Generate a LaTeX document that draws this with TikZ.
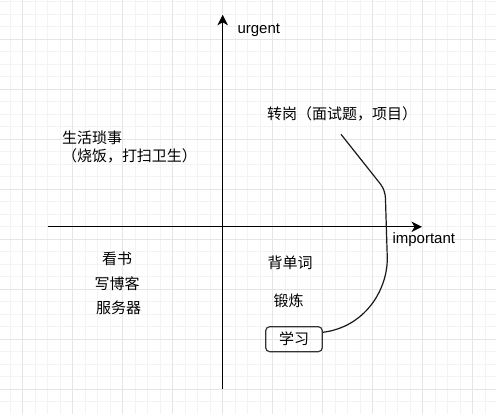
\documentclass[tikz,border=0pt]{standalone}
\usepackage{fontspec}
\setmainfont{Liberation Sans}
\newfontfamily\cjk{Noto Sans CJK SC}
\usetikzlibrary{arrows.meta}
\definecolor{gridminor}{HTML}{F3F3F3}
\definecolor{gridmajor}{HTML}{E5E5E5}
\tikzset{
  lbl/.style={inner sep=0pt, font=\fontsize{15}{17.7}\selectfont},
  cjklbl/.style={inner sep=0pt, font=\fontsize{15}{17.7}\selectfont\cjk},
  axis/.style={line width=1.4pt, black, -{Stealth[length=10.5pt,width=10.5pt,inset=3pt]}},
  link/.style={line width=1.2pt, black!90},
  box/.style={draw=black!80, line width=1.2pt, rounded corners=4pt, minimum width=56.6pt, minimum height=25pt, inner sep=0pt, font=\fontsize{15}{17.7}\selectfont\cjk}
}
\begin{document}
\begin{tikzpicture}[x=1pt,y=-1pt]
\useasboundingbox (0,0) rectangle (496,414);
\fill[white] (0,0) rectangle (496,414);
% grid
\foreach \i in {0,...,39} {
  \draw[gridminor, line width=0.8pt] ({10.2+12.5*\i},0) -- ({10.2+12.5*\i},414);
}
\foreach \i in {0,...,33} {
  \draw[gridminor, line width=0.8pt] (0,{1.8+12.5*\i}) -- (496,{1.8+12.5*\i});
}
\foreach \i in {0,...,9} {
  \draw[gridmajor, line width=0.8pt] ({22.7+50*\i},0) -- ({22.7+50*\i},414);
}
\foreach \i in {0,...,7} {
  \draw[gridmajor, line width=0.8pt] (0,{39.3+50*\i}) -- (496,{39.3+50*\i});
}
% axes
\coordinate (xl) at (47.7,226.8);
\coordinate (xr) at (422,226.8);
\coordinate (yb) at (222.7,389.3);
\coordinate (yt) at (222.7,14.8);
\draw[axis] (xl) -- (xr);
\draw[axis] (yb) -- (yt);
% labels
\node[lbl, anchor=base west] (urg) at (237.3,33.5) {urgent};
\node[lbl, anchor=base west] (imp) at (392.3,243.5) {important};
\node[cjklbl, anchor=base west] (job) at (266.8,119.4) {转岗（面试题，项目）};
\node[cjklbl, anchor=base west, align=left] (life) at (61.8,161.4) {生活琐事\\（烧饭，打扫卫生）};
\node[cjklbl] (read) at (117.2,258.8) {看书};
\node[cjklbl] (blog) at (117.2,283.3) {写博客};
\node[cjklbl] (srv) at (118.5,308.3) {服务器};
\node[cjklbl] (word) at (290.2,263.3) {背单词};
\node[cjklbl] (ex) at (288.7,300.8) {锻炼};
\node[box] (study) at (294,339.2) {学习};
% curve
\coordinate (cs) at (341,134.3);
\draw[link] (cs) -- (376.7,179.3) .. controls (384,188) and (385.3,192) .. (385.5,200)
  -- (387.3,258) .. controls (387.5,290) and (365,327) .. ([yshift=6.9pt]study.east);
\end{tikzpicture}
\end{document}
